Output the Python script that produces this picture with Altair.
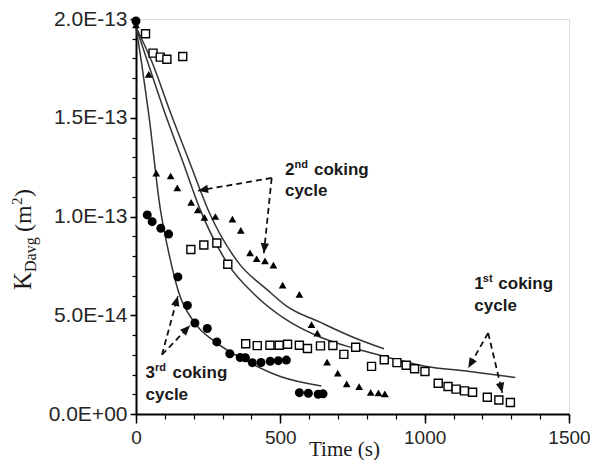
import math
import altair as alt
import pandas as pd

# ---------------- data (time in s, K_Davg in units of 1e-14 m^2) ----------------
# 1st coking cycle (open squares)
t_1st = [33, 59, 84, 107, 162, 190, 235, 280, 318, 380, 420, 464, 496, 525, 566, 594, 639, 682, 720,
         761, 816, 860, 904, 936, 965, 1001, 1047, 1081, 1109, 1138, 1166, 1217, 1257, 1297]
k_1st = [19.25, 18.27, 18.07, 17.96, 18.1, 8.33, 8.56, 8.66, 7.58, 3.56, 3.46, 3.48, 3.48, 3.53, 3.48,
         3.32, 3.45, 3.47, 3.02, 3.38, 2.41, 2.75, 2.6, 2.47, 2.29, 2.15, 1.56, 1.39, 1.26, 1.17, 1.10,
         0.85, 0.71, 0.58]
# 2nd coking cycle (filled triangles)
t_2nd = [0, 44, 70, 120, 143, 191, 214, 237, 275, 334, 363, 395, 418, 447, 476, 508, 566, 608, 628,
         662, 699, 730, 773, 813, 840, 862]
k_2nd = [19.7, 17.2, 12.2, 12.05, 11.45, 10.72, 10.33, 9.96, 10.0, 9.87, 9.3, 8.16, 7.86, 7.75, 7.54,
         6.53, 6.06, 4.53, 4.1, 2.63, 2.07, 1.53, 1.39, 1.1, 1.07, 1.02]
# 3rd coking cycle (filled circles)
t_3rd = [0, 39, 56, 86, 113, 145, 178, 204, 247, 280, 325, 361, 379, 403, 433, 465, 493, 521, 566,
         597, 631, 648]
k_3rd = [19.9, 10.08, 9.74, 9.4, 9.11, 6.94, 5.5, 4.61, 4.33, 3.65, 3.05, 2.86, 2.85, 2.6, 2.61,
         2.67, 2.7, 2.73, 1.08, 1.05, 1.0, 1.02]

# fitted curves
fit_t_1st = [0, 41, 101, 164, 221, 318, 414, 523, 637, 750, 864, 1001, 1149, 1314]
fit_k_1st = [19.6, 17.8, 15.2, 12.7, 10.4, 7.6, 6.0, 4.75, 3.9, 3.35, 2.9, 2.42, 2.17, 1.85]
fit_t_2nd = [0, 56, 121, 187, 257, 358, 454, 523, 637, 750, 859]
fit_k_2nd = [19.6, 17.8, 15.2, 12.7, 10.1, 7.6, 6.3, 5.45, 4.65, 3.9, 3.3]
fit_t_3rd = [0, 19, 44, 84, 113, 147, 204, 272, 375, 500, 642]
fit_k_3rd = [19.6, 17.8, 15.2, 10.4, 8.2, 6.2, 4.6, 3.68, 2.75, 1.9, 1.42]

# annotation arrows (from corner/apex to tip)
arrow_t0 = [470, 470, 1220, 1220, 90, 90]
arrow_k0 = [11.95, 11.95, 4.1, 4.1, 3.0, 3.0]
arrow_t1 = [215, 443, 1151, 1269, 145, 187]
arrow_k1 = [11.31, 8.14, 2.33, 1.08, 5.97, 4.48]

# annotation labels
label_num = ["2", "1", "3"]
label_sup = ["nd", "st", "rd"]
label_t = [516, 1172, 33]
label_k_line1 = [12.11, 6.35, 1.83]
label_k_line2 = [11.06, 5.21, 0.71]

# axes
x_major_ticks = [0, 500, 1000, 1500]
x_minor_ticks = list(range(0, 1501, 100))
y_major_ticks = [0, 5, 10, 15, 20]
y_major_labels = ["0.0E+00", "5.0E-14", "1.0E-13", "1.5E-13", "2.0E-13"]
y_minor_ticks = list(range(0, 21))

# ---------------- chart ----------------
W, H = 433, 395
X_DOMAIN = [0, 1500]
Y_DOMAIN = [0, 20]
xs = alt.Scale(domain=X_DOMAIN, nice=False, zero=False)
ys = alt.Scale(domain=Y_DOMAIN, nice=False, zero=False)
INK = "#1a1a1a"

y_label_expr = " : ".join(
    f"datum.value == {v} ? '{l}'" for v, l in zip(y_major_ticks, y_major_labels)
) + " : ''"

x_major_axis = alt.Axis(
    values=x_major_ticks, orient="bottom", grid=False, tickSize=9, tickWidth=1.5, tickColor="black",
    domainWidth=2, domainColor="black", labelFont="Liberation Sans", labelFontSize=19,
    labelColor="#262626", labelPadding=5, labelFlush=False, format="d",
    title="Time (s)", titleFont="Liberation Serif", titleFontSize=21, titleFontWeight="normal",
    titleColor=INK, titleBaseline="alphabetic", titleY=41, titleX=208,
)
y_major_axis = alt.Axis(
    values=y_major_ticks, orient="left", grid=False, tickSize=6, tickWidth=1.5, tickColor="black",
    domainWidth=2, domainColor="black", labelFont="Liberation Sans", labelFontSize=21,
    labelColor="#262626", labelPadding=3, labelExpr=y_label_expr, labelFlush=False, title=None,
)
x_minor_axis = alt.Axis(
    values=x_minor_ticks, orient="bottom", grid=False, tickSize=5, tickWidth=1.2, tickColor="black",
    labels=False, domain=False, title=None,
)
y_minor_axis = alt.Axis(
    values=y_minor_ticks, orient="left", grid=False, tickSize=4, tickWidth=1.2, tickColor="black",
    labels=False, domain=False, title=None,
)

fits = pd.DataFrame(
    {"t": fit_t_1st + fit_t_2nd + fit_t_3rd,
     "k": fit_k_1st + fit_k_2nd + fit_k_3rd,
     "s": ["1st"] * len(fit_t_1st) + ["2nd"] * len(fit_t_2nd) + ["3rd"] * len(fit_t_3rd)}
)
lines = alt.Chart(fits).mark_line(interpolate="monotone", color="#333333", strokeWidth=1.5).encode(
    x=alt.X("t:Q", scale=xs, axis=x_major_axis),
    y=alt.Y("k:Q", scale=ys, axis=y_major_axis),
    detail="s:N",
)

df1 = pd.DataFrame({"t": t_1st, "k": k_1st})
df2 = pd.DataFrame({"t": t_2nd, "k": k_2nd})
df3 = pd.DataFrame({"t": t_3rd, "k": k_3rd})

squares = alt.Chart(df1).mark_point(
    shape="square", filled=True, fill="white", stroke="black", strokeWidth=1.4, size=64, opacity=1
).encode(
    x=alt.X("t:Q", scale=xs, axis=x_minor_axis),
    y=alt.Y("k:Q", scale=ys, axis=y_minor_axis),
)
triangles = alt.Chart(df2).mark_point(
    shape="triangle-up", filled=True, color="black", size=60, opacity=1
).encode(
    x=alt.X("t:Q", scale=xs, axis=None),
    y=alt.Y("k:Q", scale=ys, axis=None),
)
circles = alt.Chart(df3).mark_point(
    shape="circle", filled=True, color="black", size=81, opacity=1
).encode(
    x=alt.X("t:Q", scale=xs, axis=None),
    y=alt.Y("k:Q", scale=ys, axis=None),
)


def arrow_angle(t0, k0, t1, k1):
    dxp = (t1 - t0) * W / (X_DOMAIN[1] - X_DOMAIN[0])
    dyp = -(k1 - k0) * H / (Y_DOMAIN[1] - Y_DOMAIN[0])
    return math.degrees(math.atan2(dxp, -dyp)) % 360


arrows = pd.DataFrame({"t0": arrow_t0, "k0": arrow_k0, "t1": arrow_t1, "k1": arrow_k1})
arrows["ang"] = [arrow_angle(a, b, c, d) for a, b, c, d in zip(arrow_t0, arrow_k0, arrow_t1, arrow_k1)]

dashes = alt.Chart(arrows).mark_rule(strokeDash=[6, 4], strokeWidth=1.8, color="#111111").encode(
    x=alt.X("t0:Q", scale=xs, axis=None),
    y=alt.Y("k0:Q", scale=ys, axis=None),
    x2="t1:Q",
    y2="k1:Q",
)
ARROW_PATH = "M0,0L-0.42,1L0.42,1Z"
heads = alt.Chart(arrows).mark_point(
    shape=ARROW_PATH, filled=True, color="#111111", size=400, opacity=1, strokeWidth=0
).encode(
    x=alt.X("t1:Q", scale=xs, axis=None),
    y=alt.Y("k1:Q", scale=ys, axis=None),
    angle=alt.Angle("ang:Q", scale=None),
)

# annotation texts
text_layers = []
sup_dx = [9.5, 8.5, 9.5]
coking_dx = [29, 24, 27]
for i in range(len(label_num)):
    row = pd.DataFrame({"t": [label_t[i]], "k1": [label_k_line1[i]], "k2": [label_k_line2[i]],
                        "num": [label_num[i]], "sup": [label_sup[i]]})
    base = alt.Chart(row)
    common = dict(font="Liberation Sans", fontWeight="bold", color=INK, align="left",
                  baseline="alphabetic")
    text_layers.append(base.mark_text(fontSize=17, **common).encode(
        x=alt.X("t:Q", scale=xs, axis=None), y=alt.Y("k1:Q", scale=ys, axis=None), text="num:N"))
    text_layers.append(base.mark_text(fontSize=11, dx=sup_dx[i], dy=-7, **common).encode(
        x=alt.X("t:Q", scale=xs, axis=None), y=alt.Y("k1:Q", scale=ys, axis=None), text="sup:N"))
    text_layers.append(base.mark_text(fontSize=17, dx=coking_dx[i], **common).encode(
        x=alt.X("t:Q", scale=xs, axis=None), y=alt.Y("k1:Q", scale=ys, axis=None),
        text=alt.value("coking")))
    text_layers.append(base.mark_text(fontSize=17, **common).encode(
        x=alt.X("t:Q", scale=xs, axis=None), y=alt.Y("k2:Q", scale=ys, axis=None),
        text=alt.value("cycle")))

# y-axis title: K_Davg (m^2), rotated, composed of pieces
one = pd.DataFrame({"a": [0]})
ytitle_common = dict(font="Liberation Serif", color=INK, align="left", baseline="alphabetic", angle=270)
ytitle = [
    alt.Chart(one).mark_text(fontSize=25, **ytitle_common).encode(
        x=alt.value(-105), y=alt.value(271), text=alt.value("K")),
    alt.Chart(one).mark_text(fontSize=16, **ytitle_common).encode(
        x=alt.value(-100), y=alt.value(253), text=alt.value("Davg")),
    alt.Chart(one).mark_text(fontSize=24, **ytitle_common).encode(
        x=alt.value(-105), y=alt.value(213), text=alt.value("(m")),
    alt.Chart(one).mark_text(fontSize=15, **ytitle_common).encode(
        x=alt.value(-114), y=alt.value(186), text=alt.value("2")),
    alt.Chart(one).mark_text(fontSize=24, **ytitle_common).encode(
        x=alt.value(-105), y=alt.value(178), text=alt.value(")")),
]

chart = alt.layer(
    lines, squares, triangles, circles, dashes, heads, *text_layers, *ytitle
).resolve_axis(
    x="independent", y="independent"
).properties(
    width=W, height=H,
    autosize=alt.AutoSizeParams(type="none"),
    padding={"left": 128, "top": 11, "right": 21, "bottom": 46},
).configure_view(stroke=None).configure(background="white")

chart.save("out.html", embed_options={"renderer": "svg", "actions": False})
